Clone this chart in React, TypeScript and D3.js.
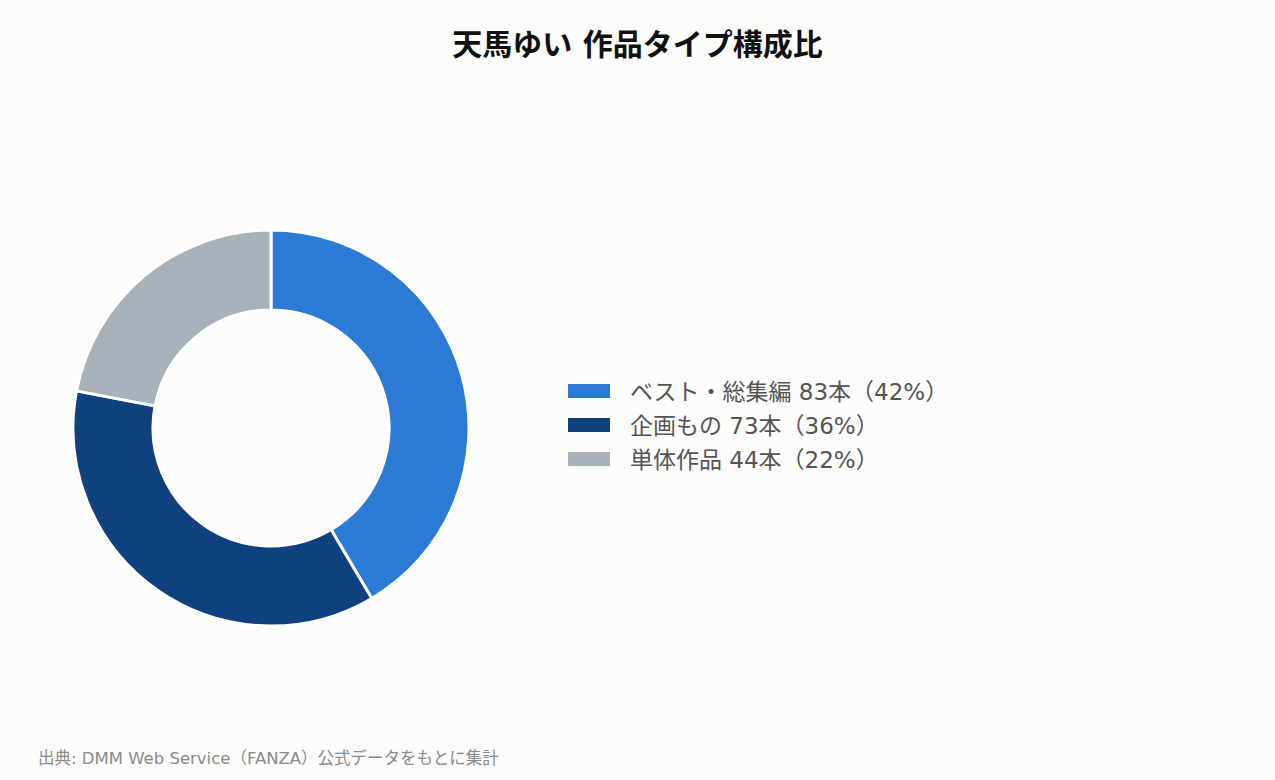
import React, { useEffect, useRef } from 'react';
import * as d3 from 'd3';

// Data
const categories = ['ベスト・総集編', '企画もの', '単体作品'];
const counts = [83, 73, 44];
const percents = [42, 36, 22];
const colors = ['#2b7ad6', '#10417f', '#a8b0b9'];

const TITLE = '天馬ゆい 作品タイプ構成比';
const SOURCE = '出典: DMM Web Service（FANZA）公式データをもとに集計';

const W = 1275;
const H = 780;
const FONT = '"DejaVu Sans", "Noto Sans CJK JP", sans-serif';

const DonutChart: React.FC = () => {
  const svgRef = useRef<SVGSVGElement>(null);

  useEffect(() => {
    if (!svgRef.current) return;
    document.body.style.margin = '0';

    const svg = d3.select(svgRef.current);
    svg.selectAll('*').remove();

    svg.append('rect').attr('width', W).attr('height', H).attr('fill', '#fcfcfb');

    // Title
    svg
      .append('text')
      .attr('x', W / 2)
      .attr('y', 55)
      .attr('text-anchor', 'middle')
      .attr('font-family', FONT)
      .attr('font-weight', 'bold')
      .attr('font-size', 30)
      .attr('fill', '#111')
      .text(TITLE);

    // Donut
    const cx = 271;
    const cy = 428;
    const outer = 198;
    const inner = 118;

    const pie = d3
      .pie<number>()
      .sort(null)
      .value(d => d);

    const arc = d3
      .arc<d3.PieArcDatum<number>>()
      .innerRadius(inner)
      .outerRadius(outer);

    const g = svg.append('g').attr('transform', `translate(${cx},${cy})`);

    g.selectAll('path')
      .data(pie(counts))
      .join('path')
      .attr('d', arc)
      .attr('fill', (d, i) => colors[i])
      .attr('stroke', '#ffffff')
      .attr('stroke-width', 3);

    // Legend
    const legendX = 568;
    const legendY = 391;
    const rowH = 34;

    const legend = svg
      .append('g')
      .selectAll('g')
      .data(categories)
      .join('g')
      .attr('transform', (d, i) => `translate(${legendX},${legendY + i * rowH})`);

    legend
      .append('rect')
      .attr('x', 0)
      .attr('y', -7)
      .attr('width', 42)
      .attr('height', 14)
      .attr('fill', (d, i) => colors[i]);

    legend
      .append('text')
      .attr('x', 62)
      .attr('y', 1)
      .attr('dominant-baseline', 'central')
      .attr('font-family', FONT)
      .attr('font-size', 23)
      .attr('fill', '#555')
      .text((d, i) => `${d} ${counts[i]}本（${percents[i]}%）`);

    // Source note
    svg
      .append('text')
      .attr('x', 38)
      .attr('y', 764)
      .attr('font-family', FONT)
      .attr('font-size', 16.5)
      .attr('fill', '#8a8a8a')
      .text(SOURCE);
  }, []);

  return <svg ref={svgRef} width={W} height={H} style={{ display: 'block' }} />;
};

export default function App() {
  return <DonutChart />;
}
